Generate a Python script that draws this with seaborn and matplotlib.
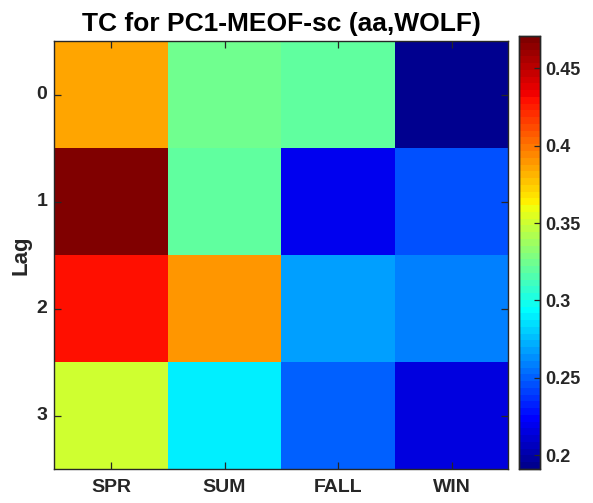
import numpy as np
import pandas as pd
import matplotlib
matplotlib.use("Agg")
import matplotlib.pyplot as plt
from matplotlib.colors import ListedColormap
import seaborn as sns

seasons = ["SPR", "SUM", "FALL", "WIN"]
lags = ["0", "1", "2", "3"]

spr = [0.386, 0.471, 0.430, 0.351]
sum_ = [0.324, 0.320, 0.390, 0.289]
fall = [0.320, 0.219, 0.268, 0.250]
win = [0.191, 0.246, 0.259, 0.215]

cbar_ticks = [0.2, 0.25, 0.3, 0.35, 0.4, 0.45]
cbar_ticklabels = ["0.2", "0.25", "0.3", "0.35", "0.4", "0.45"]

df = pd.DataFrame({"SPR": spr, "SUM": sum_, "FALL": fall, "WIN": win}, index=lags)


def classic_jet(n=64):
    """64-step jet palette with the classic breakpoints."""
    i = np.arange(1, n + 1)
    r = np.interp(i, [24, 40, 55, 64], [0, 1, 1, 0.5])
    g = np.interp(i, [8, 24, 39, 56], [0, 1, 1, 0])
    b = np.interp(i, [1, 8, 24, 40], [0.5625, 1, 1, 0])
    return ListedColormap(np.column_stack([r, g, b]))


ink = "#262626"
sns.set_theme(style="white")
plt.rcParams.update({
    "font.family": ["Liberation Sans", "DejaVu Sans"],
    "font.weight": "bold",
    "axes.axisbelow": False,
    "xtick.direction": "in",
    "ytick.direction": "in",
    "xtick.top": True,
    "xtick.bottom": True,
    "ytick.left": True,
    "ytick.right": True,
    "xtick.major.size": 5,
    "ytick.major.size": 5,
    "xtick.major.width": 0.9,
    "ytick.major.width": 0.9,
    "xtick.color": ink,
    "ytick.color": ink,
})

W, H = 593, 503
fig = plt.figure(figsize=(W / 100, H / 100), dpi=100)
ax = fig.add_axes([54.3 / W, 1 - 469 / H, 454 / W, 428 / H])
cax = fig.add_axes([519.3 / W, 1 - 469 / H, 20.5 / W, 433 / H])

sns.heatmap(df, ax=ax, cbar_ax=cax, cmap=classic_jet(64),
            vmin=min(win), vmax=max(spr), linewidths=0)

# keep the cell mesh and colour strip underneath the tick marks
for coll in ax.collections:
    coll.set_zorder(0.2)
for coll in cax.collections:
    coll.set_zorder(0.2)
ax.set_axisbelow(False)
cax.set_axisbelow(False)

for s in ax.spines.values():
    s.set_visible(True)
    s.set_color(ink)
    s.set_linewidth(1.0)
    s.set_zorder(3)

ax.tick_params(axis="both", which="major", direction="in", length=5, width=0.9,
               color=ink, labelcolor=ink, labelsize=14,
               top=True, right=True, bottom=True, left=True,
               labeltop=False, labelright=False)
ax.tick_params(axis="x", pad=7.3)
ax.tick_params(axis="y", pad=5)
ax.set_xticklabels(seasons, fontweight="bold", rotation=0)
ax.set_yticklabels(lags, fontweight="bold", rotation=0)
ax.set_xlabel("")
ax.set_ylabel("Lag", fontsize=16, fontweight="bold", color=ink, labelpad=3.5)
ax.set_title("TC for PC1-MEOF-sc (aa,WOLF)", fontsize=19, fontweight="bold",
             color="black", pad=7)

cax.set_yticks(cbar_ticks)
cax.set_yticklabels(cbar_ticklabels, fontweight="bold")
cax.tick_params(axis="y", which="major", direction="in", length=4, width=0.9,
                color=ink, labelcolor=ink, labelsize=13,
                right=True, left=False, labelright=True, labelleft=False, pad=4)
for s in cax.spines.values():
    s.set_visible(True)
    s.set_color(ink)
    s.set_linewidth(1.0)
    s.set_zorder(3)

fig.savefig("out.png", dpi=100)
